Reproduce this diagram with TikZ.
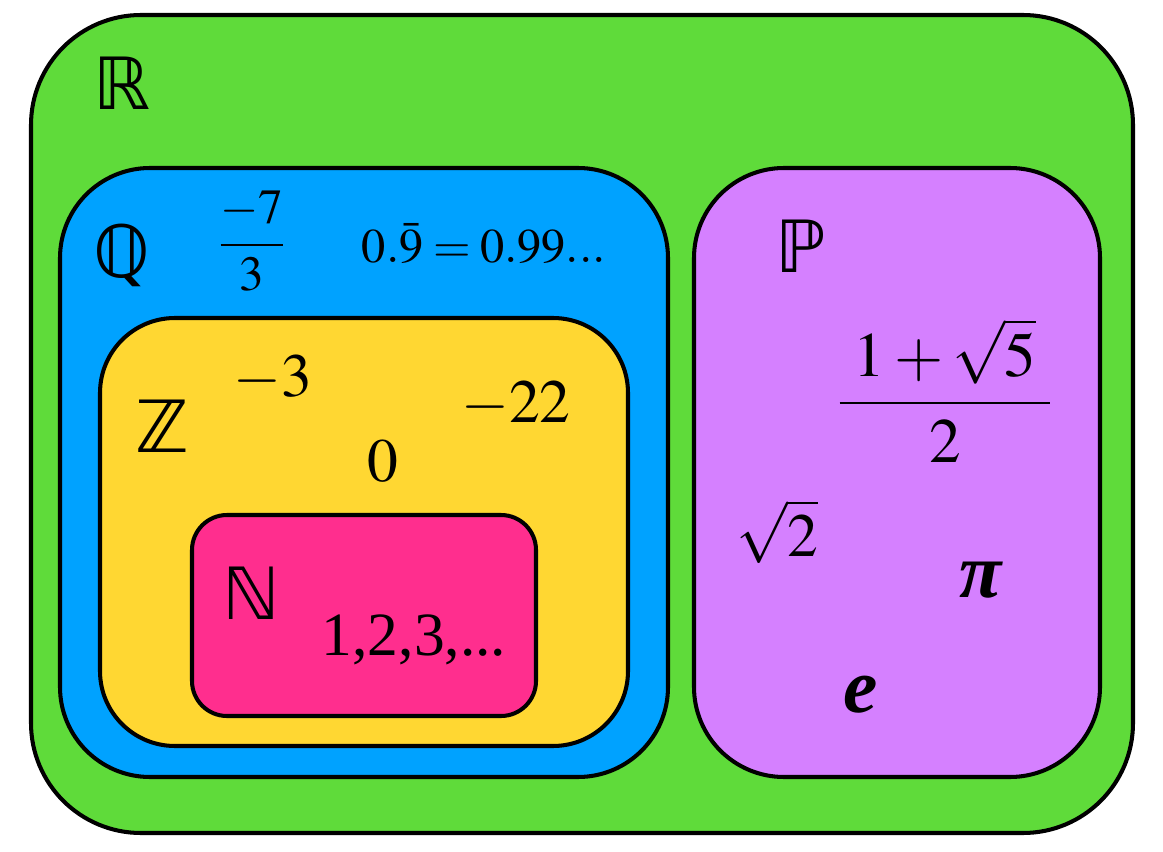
\documentclass[tikz,border=0pt]{standalone}
\usepackage{amsmath}
\usepackage{mathptmx}
\usepackage[no-math]{fontspec}
\setmainfont{Liberation Serif}
\newfontfamily\dstruck{DejaVu Sans}
\definecolor{realgreen}{HTML}{5FDB3A}
\definecolor{ratblue}{HTML}{00A2FF}
\definecolor{intyellow}{HTML}{FFD732}
\definecolor{natpink}{HTML}{FF2E8E}
\definecolor{irrpurple}{HTML}{D580FF}
\tikzset{
  setbox/.style={draw=black, line width=2.3pt},
  setname/.style={font=\dstruck\fontsize{41}{41}\selectfont, anchor=base, inner sep=0pt},
  bignum/.style={font=\fontsize{35}{35}\selectfont, anchor=base, inner sep=0pt},
  smallnum/.style={font=\fontsize{28}{28}\selectfont, anchor=base, inner sep=0pt},
  constname/.style={font=\fontsize{44}{44}\selectfont\bfseries\itshape, anchor=base, inner sep=0pt},
}
\begin{document}
\begin{tikzpicture}
\useasboundingbox (0,0) rectangle (23.26,17.02);
\draw[setbox, fill=realgreen, rounded corners=2.2cm] (0.62,0.36) rectangle (22.66,16.72);
\draw[setbox, fill=ratblue, rounded corners=1.8cm] (1.20,1.48) rectangle (13.36,13.66);
\draw[setbox, fill=intyellow, rounded corners=1.5cm] (2.00,2.10) rectangle (12.56,10.66);
\draw[setbox, fill=natpink, rounded corners=0.7cm] (3.84,2.70) rectangle (10.72,6.72);
\draw[setbox, fill=irrpurple, rounded corners=1.8cm] (13.88,1.48) rectangle (22.00,13.66);
% set letters
\node[setname] (realname) at (2.44,14.82) {ℝ};
\node[setname] (ratname) at (2.44,11.46) {ℚ};
\node[setname] (intname) at (3.24,7.96) {ℤ};
\node[setname] (natname) at (5.02,4.64) {ℕ};
\node[setname] (irrname) at (16.02,11.56) {ℙ};
% rationals
\node[smallnum] (sevenths) at (5.04,11.88) {$\dfrac{-7}{3}$};
\node[smallnum, font=\fontsize{27.5}{27.5}\selectfont] (ninebar) at (9.68,11.76)
  {$\thickmuskip=3.5mu 0.\bar{9} = 0.99...$};
% integers
\node[bignum] (minusthree) at (5.46,9.08) {$-3$};
\node[bignum] (minustwentytwo) at (10.32,8.56) {$-22$};
\node[bignum] (zero) at (7.66,7.38) {$0$};
% naturals
\node[bignum] (naturals) at (8.28,3.92) {1,2,3,...};
% irrationals
\node[bignum, font=\fontsize{36}{36}\selectfont] (golden) at (18.90,8.64)
  {$\dfrac{\mkern4mu 1+\sqrt{5}\mkern4mu}{2}$};
\node[bignum] (roottwo) at (15.54,5.90) {$\sqrt{2}$};
\node[constname] (pinum) at (19.62,5.08) {π};
\node[constname] (euler) at (17.22,2.78) {e};
\end{tikzpicture}
\end{document}
